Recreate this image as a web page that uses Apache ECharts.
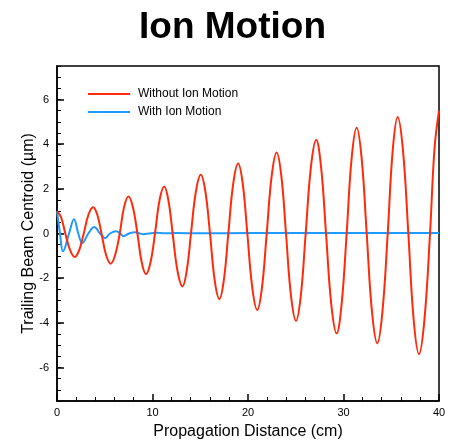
<!DOCTYPE html>
<html>
<head>
<meta charset="utf-8">
<script src="https://cdn.jsdelivr.net/npm/echarts@6/dist/echarts.min.js"></script>
<style>
  html, body { margin: 0; padding: 0; background: #fff; }
  #chart { width: 454px; height: 440px; }
</style>
</head>
<body>
<div id="chart"></div>
<script>
// Trailing beam centroid (µm) versus propagation distance (cm)
const withoutIonMotion = [
  [0, 1.0], [0.43, 0.72], [0.87, 0], [1.37, -0.74], [1.87, -1.05],
  [2.33, -0.74], [2.8, 0], [3.29, 0.84], [3.78, 1.18],
  [4.22, 0.84], [4.66, 0], [5.14, -0.96], [5.62, -1.35],
  [6.09, -0.96], [6.57, 0], [7.02, 1.18], [7.48, 1.66],
  [7.95, 1.18], [8.42, 0], [8.87, -1.29], [9.32, -1.82],
  [9.79, -1.29], [10.26, 0], [10.74, 1.5], [11.22, 2.11],
  [11.66, 1.5], [12.11, 0], [12.62, -1.68], [13.14, -2.37],
  [13.58, -1.68], [14.03, 0], [14.54, 1.87], [15.06, 2.63],
  [15.54, 1.87], [16.02, 0], [16.51, -2.09], [17.0, -2.94],
  [17.47, -2.09], [17.94, 0], [18.45, 2.22], [18.97, 3.13],
  [19.45, 2.22], [19.93, 0], [20.45, -2.43], [20.97, -3.42],
  [21.46, -2.43], [21.96, 0], [22.48, 2.58], [23.0, 3.63],
  [23.49, 2.58], [23.98, 0], [24.5, -2.78], [25.03, -3.91],
  [25.53, -2.78], [26.04, 0], [26.59, 2.98], [27.14, 4.2],
  [27.65, 2.98], [28.17, 0], [28.72, -3.17], [29.28, -4.47],
  [29.8, -3.17], [30.33, 0], [30.85, 3.36], [31.38, 4.73],
  [31.9, 3.36], [32.43, 0], [32.98, -3.49], [33.54, -4.92],
  [34.08, -3.49], [34.63, 0], [35.15, 3.71], [35.67, 5.22],
  [36.23, 3.71], [36.79, 0], [37.34, -3.83], [37.9, -5.4],
  [38.48, -3.83], [39.06, 0], [39.53, 3.8], [40, 5.5]
];

const withIonMotion = [
  [0, 1.0], [0.31, 0], [0.63, -0.8], [1.26, 0], [1.78, 0.64],
  [2.23, 0], [2.65, -0.43], [3.28, 0], [3.9, 0.29], [4.5, 0],
  [5.03, -0.21], [5.55, 0], [6.2, 0.1], [6.63, 0], [6.95, -0.12],
  [7.54, 0], [8.17, 0.06], [8.6, 0.01], [9.04, -0.03], [9.6, 0],
  [10.4, 0.03], [11.3, 0.01], [12.5, 0.02], [15, 0.01], [20, 0.02],
  [25, 0.02], [30, 0.02], [35, 0.02], [40, 0.02]
];

const seriesNames = ['Without Ion Motion', 'With Ion Motion'];
const xTicks = [0, 10, 20, 30, 40];
const yTicks = [-6, -4, -2, 0, 2, 4, 6];

const FONT = 'Liberation Sans, Arial, Helvetica, sans-serif';
const BLACK = '#000';

const chart = echarts.init(document.getElementById('chart'), null, { renderer: 'canvas' });

chart.setOption({
  backgroundColor: '#fff',
  animation: false,
  textStyle: { fontFamily: FONT },
  title: {
    text: 'Ion Motion',
    left: 139,
    top: 9,
    padding: 0,
    textStyle: { fontFamily: FONT, fontSize: 37, fontWeight: 'bold', color: BLACK }
  },
  legend: {
    data: seriesNames,
    orient: 'vertical',
    left: 88,
    top: 88,
    padding: 0,
    icon: 'rect',
    itemWidth: 42,
    itemHeight: 2,
    itemGap: 6,
    textStyle: { fontFamily: FONT, fontSize: 12, lineHeight: 12, color: BLACK, padding: [0, 0, 0, 3] }
  },
  grid: {
    left: 57, right: 15, top: 66, bottom: 39,
    show: true, borderColor: BLACK, borderWidth: 1.5,
    containLabel: false,
    outerBoundsMode: 'none'
  },
  xAxis: {
    type: 'value',
    min: 0, max: 40, interval: 10,
    name: 'Propagation Distance (cm)',
    nameLocation: 'middle',
    nameGap: 23,
    nameMoveOverlap: false,
    nameTextStyle: { fontFamily: FONT, fontSize: 16, color: BLACK },
    axisLine: { show: true, onZero: false, lineStyle: { color: BLACK, width: 1.5 } },
    axisTick: { show: true, inside: true, length: 7, lineStyle: { color: BLACK, width: 1.5 } },
    minorTick: { show: true, splitNumber: 5, length: 4, lineStyle: { color: BLACK, width: 1 } },
    axisLabel: { customValues: xTicks, fontFamily: FONT, fontSize: 11, color: BLACK, margin: 6 },
    splitLine: { show: false },
    minorSplitLine: { show: false }
  },
  yAxis: [
    {
      type: 'value',
      min: -7.5, max: 7.5,
      name: 'Trailing Beam Centroid (µm)',
      nameLocation: 'middle',
      nameGap: 20,
      nameMoveOverlap: false,
      nameTextStyle: { fontFamily: FONT, fontSize: 16, color: BLACK },
      axisLine: { show: true, onZero: false, lineStyle: { color: BLACK, width: 1.5 } },
      axisTick: { show: true, inside: true, length: 7, customValues: yTicks, lineStyle: { color: BLACK, width: 1.5 } },
      axisLabel: { customValues: yTicks, fontFamily: FONT, fontSize: 11, color: BLACK, margin: 8 },
      splitLine: { show: false }
    },
    {
      // minor ticks every 0.5 µm
      type: 'value',
      position: 'left',
      min: -7.5, max: 7.5, interval: 0.5,
      axisLine: { show: false },
      axisTick: { show: true, inside: true, length: 4, lineStyle: { color: BLACK, width: 1 } },
      axisLabel: { show: false },
      splitLine: { show: false }
    }
  ],
  series: [
    {
      name: seriesNames[1],
      type: 'line',
      data: withIonMotion,
      showSymbol: false,
      symbol: 'none',
      smooth: 0.4,
      color: '#1e9bff',
      lineStyle: { color: '#1e9bff', width: 2 },
      z: 2
    },
    {
      name: seriesNames[0],
      type: 'line',
      data: withoutIonMotion,
      showSymbol: false,
      symbol: 'none',
      smooth: 0.4,
      color: '#ff2a0a',
      lineStyle: { color: '#ff2a0a', width: 2 },
      z: 3
    }
  ]
});
</script>
</body>
</html>
